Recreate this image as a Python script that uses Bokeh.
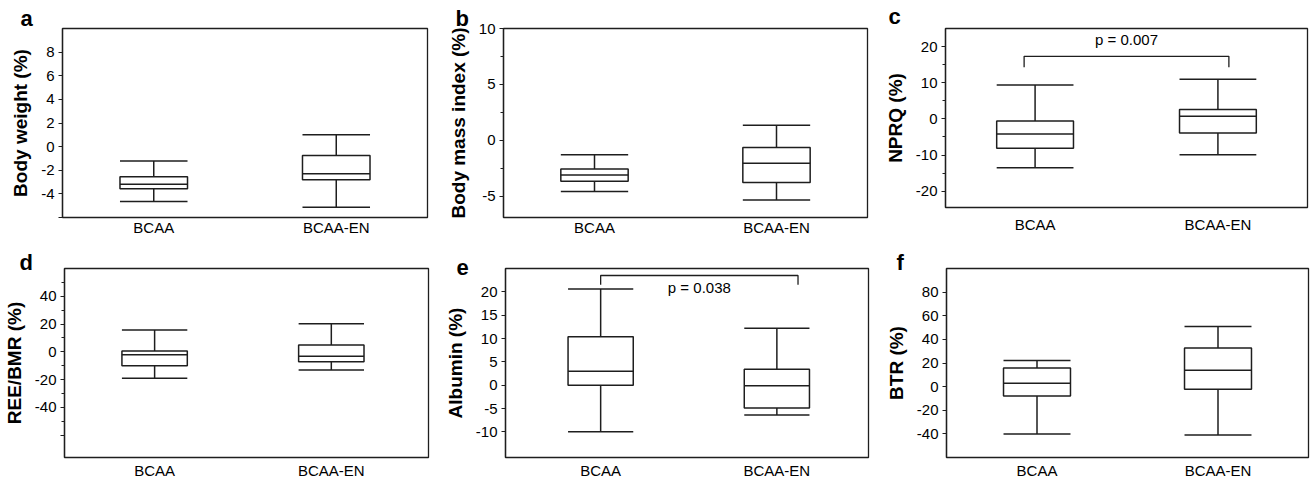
from bokeh.plotting import figure
from bokeh.layouts import row, column
from bokeh.models import FixedTicker, Range1d, Label, ColumnDataSource, Title
from bokeh.embed import file_html
from bokeh.resources import INLINE

groups = ["BCAA", "BCAA-EN"]
# box statistics per group: [lower whisker, Q1, median, Q3, upper whisker]
body_weight_bcaa = [-4.65, -3.56, -3.19, -2.54, -1.21]
body_weight_en = [-5.13, -2.81, -2.30, -0.76, 1.00]
bmi_bcaa = [-4.57, -3.66, -3.09, -2.57, -1.29]
bmi_en = [-5.34, -3.77, -2.06, -0.63, 1.35]
nprq_bcaa = [-13.5, -8.1, -4.2, -0.6, 9.4]
nprq_en = [-9.9, -3.9, 0.7, 2.6, 11.0]
ree_bcaa = [-18.9, -9.9, -2.1, 0.7, 15.8]
ree_en = [-13.0, -7.1, -3.1, 5.0, 20.3]
albumin_bcaa = [-10.0, 0.0, 3.0, 10.4, 20.6]
albumin_en = [-6.4, -4.9, -0.1, 3.4, 12.2]
btr_bcaa = [-40.2, -7.9, 2.8, 15.7, 22.1]
btr_en = [-41.0, -2.2, 13.8, 32.8, 51.0]

# y tick values
bw_ticks = [-6, -4, -2, 0, 2, 4, 6, 8]
bmi_ticks = [-5, 0, 5, 10]
bmi_minor = [-2.5, 2.5, 7.5]
nprq_ticks = [-20, -10, 0, 10, 20]
nprq_minor = [-15, -5, 5, 15]
ree_ticks = [-60, -40, -20, 0, 20, 40]
ree_minor = [-50, -30, -10, 10, 30, 50]
albumin_ticks = [-10, -5, 0, 5, 10, 15, 20]
btr_ticks = [-40, -20, 0, 20, 40, 60, 80]

# significance annotations
nprq_p = "p = 0.007"
nprq_bracket = 17.3
albumin_p = "p = 0.038"
albumin_bracket = 23.5

INK = "#1e1e1e"
FONT = "Liberation Sans"
XPOS = [0.5, 1.5]


def panel(letter, ylabel, s1, s2, yr, ticks, minor, hidden, fw, fh,
          bl, br, bt, bb, xr=(0, 2), bw=0.37, letter_dx=-42, letter_so=0, xstand=1):
    title = Title(text=letter, align="left", offset=letter_dx, standoff=letter_so,
                  text_font=FONT, text_font_style="bold", text_font_size="22px",
                  text_line_height=0.6, text_color="black", vertical_align="bottom")
    p = figure(frame_width=fw, frame_height=fh, output_backend="svg", toolbar_location=None,
               title=title, x_range=Range1d(*xr), y_range=Range1d(*yr),
               min_border_left=bl, min_border_right=br, min_border_top=bt, min_border_bottom=bb)
    p.background_fill_color = "white"
    p.border_fill_color = "white"
    p.outline_line_color = INK
    p.outline_line_width = 1.3
    p.xgrid.visible = False
    p.ygrid.visible = False

    stats = [s1, s2]
    src = ColumnDataSource(dict(
        x=XPOS,
        x0=[x - bw / 2 for x in XPOS],
        x1=[x + bw / 2 for x in XPOS],
        lo=[s[0] for s in stats], q1=[s[1] for s in stats], med=[s[2] for s in stats],
        q3=[s[3] for s in stats], hi=[s[4] for s in stats]))
    lw = 1.5
    p.segment(x0="x", x1="x", y0="q3", y1="hi", source=src, line_color=INK, line_width=lw)
    p.segment(x0="x", x1="x", y0="lo", y1="q1", source=src, line_color=INK, line_width=lw)
    p.vbar(x="x", width=bw, bottom="q1", top="q3", source=src, fill_color="white",
           line_color=INK, line_width=lw)
    for col in ("lo", "hi", "med"):
        p.segment(x0="x0", x1="x1", y0=col, y1=col, source=src, line_color=INK, line_width=lw)

    xa = p.xaxis[0]
    xa.ticker = FixedTicker(ticks=XPOS)
    xa.major_label_overrides = {XPOS[0]: groups[0], XPOS[1]: groups[1]}
    xa.major_tick_out = 0
    xa.major_tick_in = 0
    xa.minor_tick_out = 0
    xa.minor_tick_in = 0
    xa.axis_line_color = None
    xa.axis_label = None
    xa.axis_label_standoff = 0
    xa.major_label_text_font = FONT
    xa.major_label_text_font_size = "15px"
    xa.major_label_text_color = "black"
    xa.major_label_standoff = xstand

    ya = p.yaxis[0]
    ya.ticker = FixedTicker(ticks=ticks, minor_ticks=minor)
    ya.major_label_overrides = {t: ("" if t in hidden else str(t)) for t in ticks}
    ya.axis_line_color = INK
    ya.axis_line_width = 1.3
    ya.major_tick_line_color = INK
    ya.minor_tick_line_color = INK
    ya.major_tick_out = 4
    ya.major_tick_in = 0
    ya.minor_tick_out = 3
    ya.minor_tick_in = 0
    ya.major_label_text_font = FONT
    ya.major_label_text_font_size = "15px"
    ya.major_label_text_color = "black"
    ya.major_label_standoff = 4
    ya.axis_label = ylabel
    ya.axis_label_text_font = FONT
    ya.axis_label_text_font_style = "bold"
    ya.axis_label_text_font_size = "19px"
    ya.axis_label_text_color = "black"
    ya.axis_label_standoff = 7
    return p


TOP = 28
pa = panel("a", "Body weight (%)", body_weight_bcaa, body_weight_en, (-6, 10), bw_ticks, [], [-6],
           365, 189, 62, 13, TOP, 23, letter_dx=-42, letter_so=-4)
pb = panel("b", "Body mass index (%)", bmi_bcaa, bmi_en, (-6.9, 10), bmi_ticks, bmi_minor, [],
           364, 189, 63, 5, TOP, 23, letter_dx=-48, letter_so=-4)
pc = panel("c", "NPRQ (%)", nprq_bcaa, nprq_en, (-24.5, 25), nprq_ticks, nprq_minor, [],
           362, 179, 73, 2, TOP, 33, xr=(0.01, 1.99), bw=0.42, letter_dx=-57, xstand=8)
pd = panel("d", "REE/BMR (%)", ree_bcaa, ree_en, (-76, 60), ree_ticks, ree_minor, [-60],
           364, 189, 63, 13, TOP, 25, xr=(-0.01, 2.05), letter_dx=-45, letter_so=-12, xstand=4)
pe = panel("e", "Albumin (%)", albumin_bcaa, albumin_en, (-15.5, 25), albumin_ticks, [], [],
           363, 189, 64, 5, TOP, 25, xr=(-0.04, 2.02), letter_dx=-49, letter_so=-12, xstand=4)
pf = panel("f", "BTR (%)", btr_bcaa, btr_en, (-60, 100), btr_ticks, [], [],
           362, 189, 73, 2, TOP, 25, letter_dx=-50, letter_so=-12, xstand=4)

# significance brackets
bx0, bx1 = XPOS[0] - 0.06, XPOS[1] + 0.06
pc.line(x=[bx0, bx0, bx1, bx1], y=[nprq_bracket - 3, nprq_bracket, nprq_bracket, nprq_bracket - 3],
        line_color=INK, line_width=1.3)
pc.add_layout(Label(x=(bx0 + bx1) / 2, y=nprq_bracket + 2.2, text=nprq_p, text_font=FONT,
                    text_font_size="15px", text_align="center", text_baseline="bottom",
                    text_color="black"))
ex0, ex1 = XPOS[0], XPOS[1] + 0.12
pe.line(x=[ex0, ex0, ex1, ex1], y=[albumin_bracket - 2, albumin_bracket, albumin_bracket, albumin_bracket - 2],
        line_color=INK, line_width=1.3)
pe.add_layout(Label(x=(ex0 + ex1) / 2, y=albumin_bracket - 0.8, text=albumin_p, text_font=FONT,
                    text_font_size="15px", text_align="center", text_baseline="top",
                    text_color="black"))

layout = column(row(pa, pb, pc), row(pd, pe, pf))
open("out.html", "w").write(file_html(layout, INLINE))
